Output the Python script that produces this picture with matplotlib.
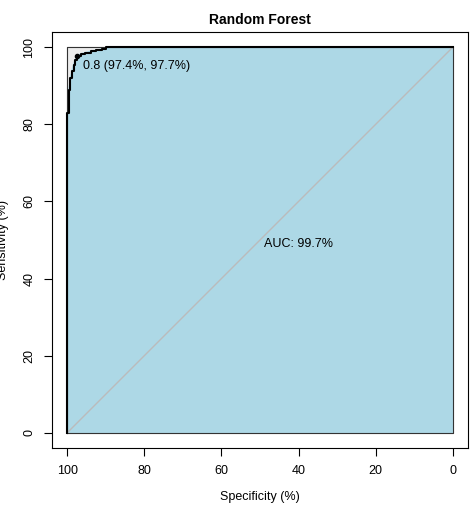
import numpy as np
import matplotlib.pyplot as plt

# ROC points (specificity %, sensitivity %)
spec = [100, 100, 99.6, 99.6, 99.2, 98.8, 98.4, 97.9, 97.4, 96.5, 95.5, 94.0, 92.5, 91.0, 90.0, 0]
sens = [0, 83.0, 83.0, 89.0, 92.0, 94.0, 95.5, 96.8, 97.7, 98.3, 98.6, 99.0, 99.3, 99.6, 100, 100]
best = (97.4, 97.7)
auc_text = "AUC: 99.7%"

plt.rcParams['font.family'] = ['Liberation Sans', 'DejaVu Sans']
fig = plt.figure(figsize=(4.75, 5.11), dpi=100)
ax = fig.add_axes([52/475, 63/511, 416/475, 416/511])
ax.set_xlim(104, -4)
ax.set_ylim(-4, 104)

ax.fill([100, 0, 0, 100], [0, 0, 100, 100], color='#ececec', zorder=0)
ax.fill(spec + [0], sens + [0], color='#add8e6', zorder=1)
ax.plot([100, 0], [0, 100], color='#bbbbbb', lw=1, zorder=2)
ax.plot([100, 0, 0, 100, 100], [0, 0, 100, 100, 0], color='#333333', lw=0.8, zorder=2)
ax.step(spec, sens, where='post', color='black', lw=1.5, zorder=3)
ax.plot(*best, 'o', color='black', ms=3, zorder=4)
ax.text(best[0] - 1.5, best[1] - 1, "0.8 (97.4%, 97.7%)", fontsize=9, va='top', ha='left', zorder=5)
ax.text(40, 49, auc_text, fontsize=9, ha='center', va='center', zorder=5)

ax.set_xticks([100, 80, 60, 40, 20, 0])
ax.set_yticks([0, 20, 40, 60, 80, 100])
ax.tick_params(labelsize=9, length=6, pad=6)
for lab in ax.get_yticklabels():
    lab.set_rotation(90)
    lab.set_va('center')
ax.set_xlabel("Specificity (%)", fontsize=9, labelpad=10)
ax.set_ylabel("Sensitivity (%)", fontsize=9, labelpad=10)
ax.set_title("Random Forest", fontsize=10, fontweight='bold')
fig.savefig("out.png", dpi=100)
